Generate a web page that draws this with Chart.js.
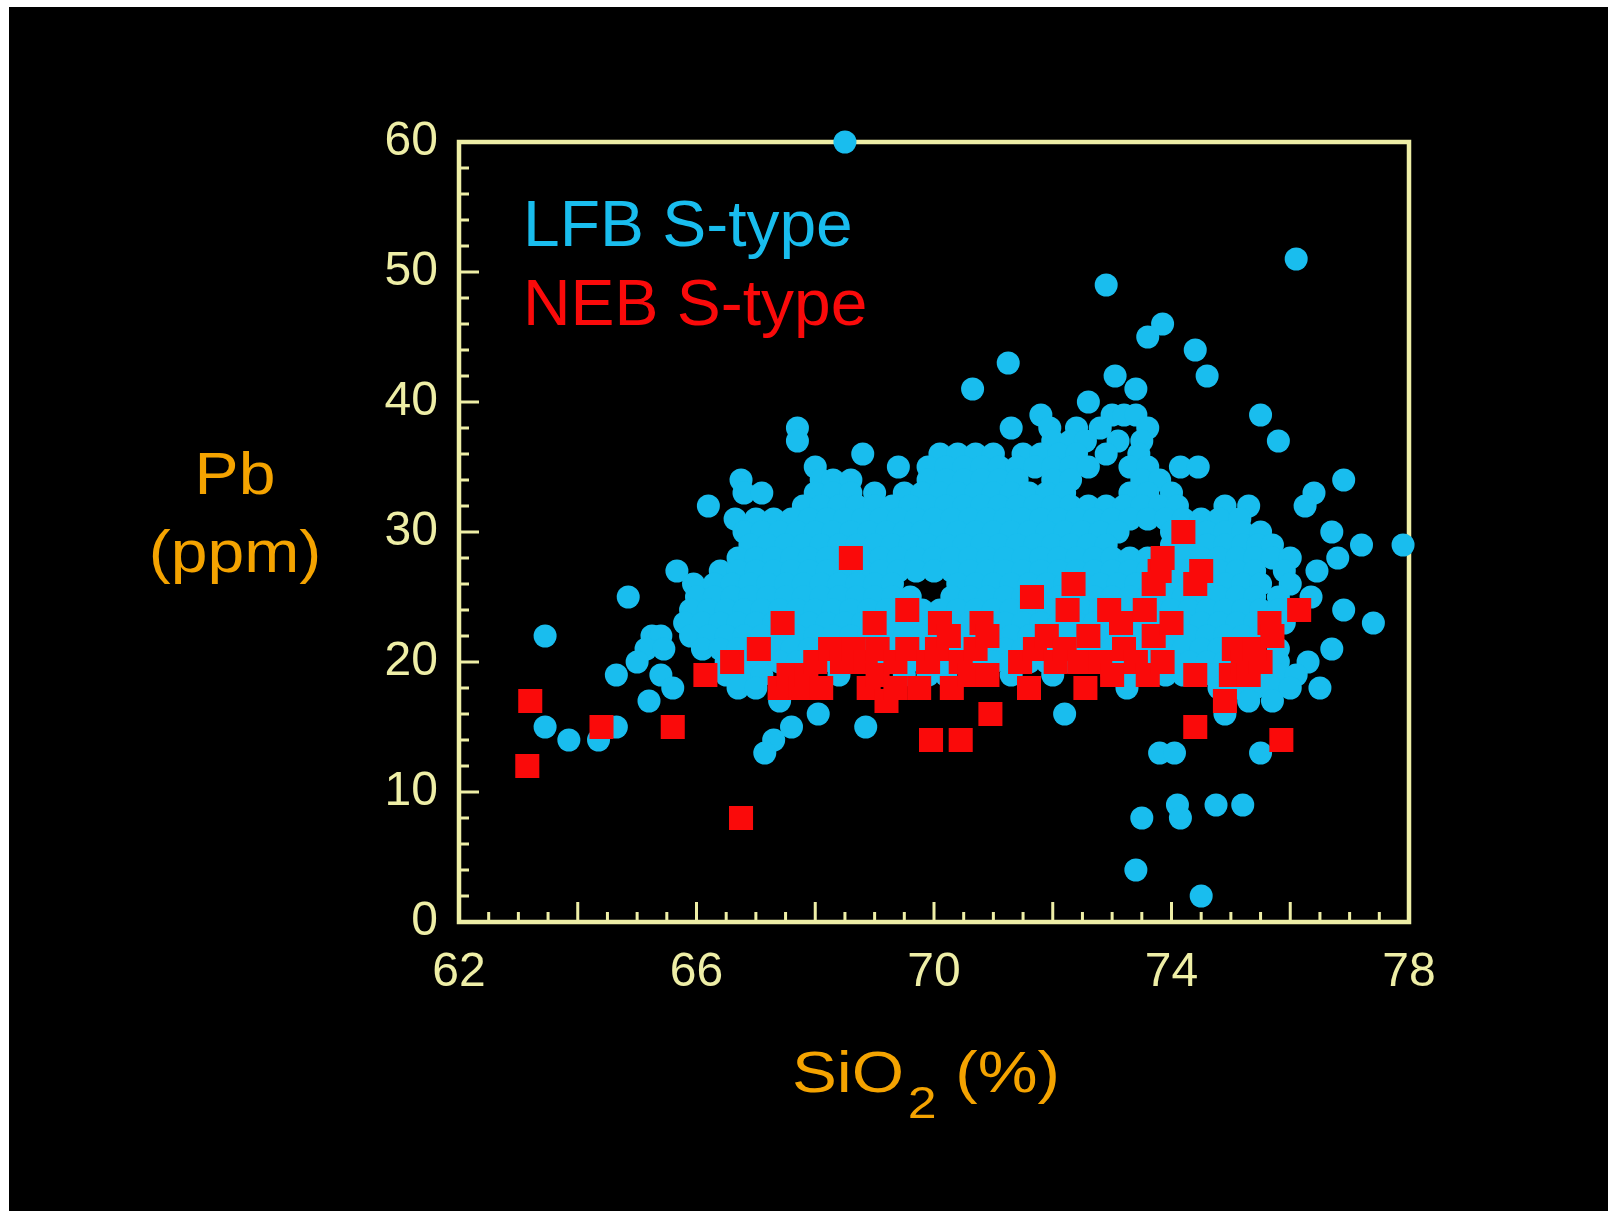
<!DOCTYPE html>
<html>
<head>
<meta charset="utf-8">
<script src="https://cdn.jsdelivr.net/npm/chart.js@4.4.0/dist/chart.umd.min.js"></script>
<style>
  html, body { margin: 0; padding: 0; background: #fff; }
  #wrap { position: relative; width: 1608px; height: 1211px; overflow: hidden; }
  #bg { position: absolute; left: 9px; top: 7px; right: 0; bottom: 0; background: #000; }
  canvas { position: absolute; left: 0; top: 0; }
  .txt { position: absolute; font-family: 'Liberation Sans', Arial, sans-serif; line-height: 1; white-space: nowrap; }
  .orange { color: #f4a300; }
</style>
</head>
<body>
<div id="wrap">
  <div id="bg"></div>
  <canvas id="pbChart" width="1608" height="1211"></canvas>
  <div class="txt" style="left:523px; top:192px; font-size:64px; color:#19bdee; transform:scaleX(1.03); transform-origin:left;">LFB S-type</div>
  <div class="txt" style="left:523px; top:271px; font-size:64px; color:#fa0a0a; transform:scaleX(1.03); transform-origin:left;">NEB S-type</div>
  <div class="txt orange" style="left:135px; width:200px; text-align:center; top:445px; font-size:59px; transform:scaleX(1.12);">Pb</div>
  <div class="txt orange" style="left:135px; width:200px; text-align:center; top:523px; font-size:59px; transform:scaleX(1.12);">(ppm)</div>
  <div class="txt orange" style="left:792px; top:1044px; font-size:57px; transform:scaleX(1.18); transform-origin:left;">SiO<span style="font-size:44px; position:relative; top:26px; margin-left:3px;">2</span> (%)</div>
</div>
<script>
// tick labels
const xTickLabels = [62, 66, 70, 74, 78];
const yTickLabels = [0, 10, 20, 30, 40, 50, 60];

// LFB S-type: [SiO2 %, Pb ppm]
const lfbPoints = [
  [68.5,60],[76.1,51],[72.9,49],[73.85,46],[73.6,45],[74.4,44],[71.25,43],[74.6,42],[73.05,42],[73.4,41],[70.65,41],[72.6,40],
  [71.8,39],[73.0,39],[73.2,39],[73.4,39],[75.5,39],
  [67.7,38],[71.3,38],[71.95,38],[72.4,38],[72.8,38],[73.6,38],
  [67.7,37],[72.0,37],[72.3,37],[72.55,37],[73.1,37],[73.5,37],[75.8,37],
  [68.8,36],[70.1,36],[70.4,36],[70.7,36],[71.0,36],[71.5,36],[71.8,36],[72.1,36],[72.4,36],[72.9,36],[73.45,36],
  [68.0,35],[69.4,35],[69.9,35],[70.2,35],[70.5,35],[70.8,35],[71.1,35],[71.4,35],[71.7,35],[72.0,35],[72.3,35],[72.6,35],[73.3,35],[73.6,35],[74.15,35],[74.45,35],
  [66.75,34],[68.1,34],[68.3,34],[68.6,34],[69.9,34],[70.2,34],[70.5,34],[70.8,34],[71.1,34],[71.4,34],[72.0,34],[72.3,34],[73.5,34],[73.8,34],[76.9,34],
  [66.8,33],[67.1,33],[68.0,33],[68.3,33],[68.6,33],[69.0,33],[69.5,33],[69.8,33],[70.1,33],[70.4,33],[70.7,33],[71.0,33],[71.3,33],[71.6,33],[71.9,33],[72.2,33],[73.3,33],[73.6,33],[74.0,33],[76.4,33],
  [66.2,32],[67.8,32],[68.1,32],[68.4,32],[68.7,32],[69.0,32],[69.3,32],[69.6,32],[69.9,32],[70.2,32],[70.5,32],[70.8,32],[71.1,32],[71.4,32],[71.7,32],[72.0,32],[72.3,32],[72.6,32],[72.9,32],[73.2,32],[73.5,32],[73.8,32],[74.1,32],[74.9,32],[75.3,32],[76.25,32],
  [66.65,31],[67.0,31],[67.3,31],[67.6,31],[67.9,31],[68.2,31],[68.5,31],[68.8,31],[69.1,31],[69.4,31],[69.7,31],[70.0,31],[70.3,31],[70.6,31],[70.9,31],[71.2,31],[71.5,31],[71.8,31],[72.1,31],[72.4,31],[72.7,31],[73.0,31],[73.3,31],[73.6,31],[73.9,31],[74.2,31],[74.5,31],[74.8,31],[75.15,31],
  [66.8,30],[67.1,30],[67.4,30],[67.7,30],[68.0,30],[68.3,30],[68.6,30],[68.9,30],[69.2,30],[69.5,30],[69.8,30],[70.1,30],[70.4,30],[70.7,30],[71.0,30],[71.3,30],[71.6,30],[71.9,30],[72.2,30],[72.5,30],[72.8,30],[73.1,30],[74.0,30],[74.3,30],[74.6,30],[74.9,30],[75.2,30],[75.5,30],[76.7,30],
  [66.9,29],[67.2,29],[67.5,29],[67.8,29],[68.1,29],[68.4,29],[68.7,29],[69.0,29],[69.3,29],[69.6,29],[69.9,29],[70.2,29],[70.5,29],[70.8,29],[71.1,29],[71.4,29],[71.7,29],[72.0,29],[72.3,29],[72.6,29],[72.9,29],[74.0,29],[74.3,29],[74.6,29],[74.9,29],[75.2,29],[75.45,29],[75.7,29],[77.2,29],[77.9,29],
  [66.7,28],[67.0,28],[67.3,28],[67.6,28],[67.9,28],[68.2,28],[68.5,28],[68.8,28],[69.1,28],[69.4,28],[69.7,28],[70.0,28],[70.3,28],[70.6,28],[70.9,28],[71.2,28],[71.5,28],[71.8,28],[72.1,28],[72.4,28],[72.7,28],[73.0,28],[73.3,28],[73.6,28],[73.9,28],[74.2,28],[74.5,28],[74.8,28],[75.1,28],[75.4,28],[75.7,28],[76.0,28],[76.8,28],
  [65.67,27],[66.4,27],[66.7,27],[67.0,27],[67.3,27],[67.6,27],[67.9,27],[68.2,27],[68.5,27],[68.8,27],[69.1,27],[69.4,27],[69.7,27],[70.0,27],[70.3,27],[70.6,27],[70.9,27],[71.2,27],[71.5,27],[71.8,27],[72.1,27],[72.4,27],[72.7,27],[73.0,27],[73.3,27],[73.6,27],[73.9,27],[74.2,27],[74.5,27],[74.8,27],[75.1,27],[75.4,27],[75.9,27],[76.45,27],
  [65.95,26],[66.3,26],[66.6,26],[66.9,26],[67.2,26],[67.5,26],[67.8,26],[68.1,26],[68.4,26],[68.7,26],[69.0,26],[69.3,26],[70.4,26],[70.7,26],[71.0,26],[71.3,26],[71.6,26],[71.9,26],[72.2,26],[72.5,26],[72.8,26],[73.1,26],[73.4,26],[74.0,26],[74.3,26],[74.6,26],[74.9,26],[75.2,26],[75.5,26],[76.0,26],
  [64.85,25],[66.0,25],[66.3,25],[66.6,25],[66.9,25],[67.2,25],[67.5,25],[67.8,25],[68.1,25],[68.4,25],[68.7,25],[69.0,25],[69.3,25],[69.6,25],[70.3,25],[70.6,25],[70.9,25],[71.2,25],[71.5,25],[71.8,25],[72.1,25],[72.4,25],[72.7,25],[73.0,25],[73.3,25],[73.6,25],[73.9,25],[74.2,25],[74.5,25],[74.8,25],[75.1,25],[75.4,25],[75.8,25],[76.35,25],
  [65.9,24],[66.2,24],[66.5,24],[66.8,24],[67.1,24],[67.4,24],[67.7,24],[68.0,24],[68.3,24],[68.6,24],[68.9,24],[69.2,24],[69.5,24],[69.8,24],[70.1,24],[70.4,24],[70.7,24],[71.0,24],[71.3,24],[71.6,24],[71.9,24],[72.2,24],[72.5,24],[72.8,24],[73.1,24],[73.4,24],[73.7,24],[74.0,24],[74.3,24],[74.6,24],[74.9,24],[75.2,24],[75.5,24],[75.8,24],[76.9,24],
  [65.8,23],[66.1,23],[66.4,23],[66.7,23],[67.0,23],[67.3,23],[67.6,23],[67.9,23],[68.2,23],[68.5,23],[68.8,23],[69.1,23],[69.4,23],[69.7,23],[70.0,23],[70.3,23],[70.6,23],[70.9,23],[71.2,23],[71.5,23],[71.8,23],[72.1,23],[72.4,23],[72.7,23],[73.0,23],[73.3,23],[73.6,23],[73.9,23],[74.2,23],[74.5,23],[74.8,23],[75.1,23],[75.4,23],[75.9,23],[77.4,23],
  [63.45,22],[65.25,22],[65.4,22],[65.9,22],[66.2,22],[66.5,22],[66.8,22],[67.1,22],[67.4,22],[67.7,22],[68.0,22],[68.3,22],[68.6,22],[68.9,22],[69.2,22],[69.5,22],[69.8,22],[70.1,22],[70.4,22],[70.7,22],[71.0,22],[71.3,22],[71.6,22],[71.9,22],[72.2,22],[72.5,22],[72.8,22],[73.1,22],[73.4,22],[73.7,22],[74.0,22],[74.3,22],[74.6,22],[74.9,22],[75.2,22],[75.5,22],
  [65.15,21],[65.45,21],[66.1,21],[66.4,21],[66.7,21],[67.0,21],[67.3,21],[67.6,21],[67.9,21],[68.2,21],[68.5,21],[68.8,21],[69.1,21],[69.4,21],[69.7,21],[70.0,21],[70.3,21],[70.6,21],[70.9,21],[71.2,21],[71.5,21],[71.8,21],[72.1,21],[72.4,21],[72.7,21],[73.0,21],[73.3,21],[73.6,21],[73.9,21],[74.2,21],[74.5,21],[74.8,21],[75.1,21],[75.4,21],[75.8,21],[76.7,21],
  [65.0,20],[66.5,20],[66.8,20],[67.1,20],[67.4,20],[67.7,20],[68.0,20],[68.3,20],[68.6,20],[68.9,20],[69.2,20],[69.5,20],[69.8,20],[70.1,20],[70.4,20],[70.7,20],[71.0,20],[71.3,20],[71.6,20],[71.9,20],[72.2,20],[72.5,20],[72.8,20],[73.1,20],[73.4,20],[73.7,20],[74.0,20],[74.3,20],[74.6,20],[74.9,20],[75.2,20],[75.5,20],[75.8,20],[76.3,20],
  [64.65,19],[65.4,19],[66.5,19],[66.8,19],[67.1,19],[68.4,19],[69.5,19],[69.9,19],[70.2,19],[71.3,19],[72.0,19],[73.0,19],[73.3,19],[73.6,19],[73.9,19],[74.2,19],[74.7,19],[75.0,19],[75.5,19],[75.8,19],[76.1,19],
  [65.6,18],[66.7,18],[67.0,18],[73.25,18],[74.8,18],[75.1,18],[75.4,18],[75.7,18],[76.0,18],[76.5,18],
  [65.2,17],[67.4,17],[74.9,17],[75.3,17],[75.7,17],
  [68.05,16],[72.2,16],[74.9,16],
  [63.45,15],[64.65,15],[67.6,15],[68.85,15],
  [63.85,14],[64.35,14],[67.3,14],
  [67.15,13],[73.8,13],[74.05,13],[75.5,13],
  [74.1,9],[74.75,9],[75.2,9],
  [73.5,8],[74.15,8],
  [73.4,4],[74.5,2]
];

// NEB S-type: [SiO2 %, Pb ppm]
const nebPoints = [
  [63.2,17],[63.15,12],[64.4,15],[65.6,15],[66.75,8],[66.15,19],[66.6,20],[67.05,21],[67.45,23],
  [67.4,18],[67.55,19],[67.75,18],[67.85,19],[68.1,18],[68.0,20],[68.25,21],[68.45,20],[68.65,21],[68.6,28],
  [68.85,20],[69.05,21],[69.0,23],[69.55,24],[68.9,18],[69.05,19],[69.2,17],[69.35,18],[69.35,20],[69.55,21],
  [69.75,18],[69.9,20],[70.1,23],[70.05,21],[70.25,22],[69.95,14],[70.45,14],[70.3,18],[70.45,20],[70.6,19],
  [70.8,23],[70.9,19],[70.95,16],[70.7,21],[70.9,22],[71.65,25],[71.6,18],[71.45,20],[71.7,21],[71.9,22],
  [72.05,20],[72.2,21],[72.35,26],[72.25,24],[72.55,18],[72.45,20],[72.6,22],[72.95,24],[73.15,23],[72.8,20],
  [73.0,19],[73.2,21],[73.4,20],[73.55,24],[73.6,19],[73.7,26],[73.8,27],[73.85,28],[73.7,22],[73.85,20],
  [74.0,23],[74.2,30],[74.4,26],[74.5,27],[74.4,19],[74.4,15],[74.9,17],[75.0,19],[75.05,21],[75.2,20],
  [75.3,19],[75.5,20],[75.4,21],[75.65,23],[75.7,22],[76.15,24],[75.85,14]
];

const lfbColor = '#19bdee';
const nebColor = '#fa0a0a';
const axisColor = '#eeeea6';
const fontFamily = "'Liberation Sans', Arial, sans-serif";

// frame with inward ticks, drawn under the points
const framePlugin = {
  id: 'frame',
  beforeDatasetsDraw(chart) {
    const { ctx, chartArea: a, scales: { x, y } } = chart;
    ctx.save();
    ctx.strokeStyle = axisColor;
    ctx.lineWidth = 4.5;
    ctx.strokeRect(a.left, a.top, a.right - a.left, a.bottom - a.top);
    ctx.lineWidth = 3;
    ctx.beginPath();
    for (let i = 0; i <= 32; i++) {
      const px = x.getPixelForValue(62 + i * 0.5);
      const len = i % 4 === 0 ? 20 : 10;
      ctx.moveTo(px, a.bottom);
      ctx.lineTo(px, a.bottom - len);
    }
    for (let i = 0; i <= 30; i++) {
      const py = y.getPixelForValue(i * 2);
      const len = i % 5 === 0 ? 20 : 10;
      ctx.moveTo(a.left, py);
      ctx.lineTo(a.left + len, py);
    }
    ctx.stroke();
    ctx.restore();
  }
};

const ctx = document.getElementById('pbChart').getContext('2d');
new Chart(ctx, {
  type: 'scatter',
  data: {
    datasets: [
      {
        label: 'NEB S-type',
        data: nebPoints.map(([x, y]) => ({ x, y })),
        pointStyle: 'rect',
        pointRadius: 17,
        backgroundColor: nebColor,
        borderWidth: 0,
        clip: false,
        order: 1
      },
      {
        label: 'LFB S-type',
        data: lfbPoints.map(([x, y]) => ({ x, y })),
        pointStyle: 'circle',
        pointRadius: 11.5,
        backgroundColor: lfbColor,
        borderWidth: 0,
        clip: false,
        order: 2
      }
    ]
  },
  options: {
    responsive: false,
    animation: false,
    events: [],
    layout: { padding: { top: 142, right: 199, bottom: 0, left: 0 } },
    plugins: { legend: { display: false }, tooltip: { enabled: false } },
    scales: {
      x: {
        type: 'linear',
        min: 62,
        max: 78,
        grid: { display: false },
        border: { display: false },
        afterBuildTicks: (s) => { s.ticks = xTickLabels.map(v => ({ value: v })); },
        afterFit: (s) => { s.height = 289; },
        ticks: { color: axisColor, font: { family: fontFamily, size: 48 }, padding: 14, maxRotation: 0, autoSkip: false }
      },
      y: {
        type: 'linear',
        min: 0,
        max: 60,
        grid: { display: false },
        border: { display: false },
        afterBuildTicks: (s) => { s.ticks = yTickLabels.map(v => ({ value: v })); },
        afterFit: (s) => { s.width = 459; },
        ticks: { color: axisColor, font: { family: fontFamily, size: 48 }, padding: 13, autoSkip: false }
      }
    }
  },
  plugins: [framePlugin]
});
</script>
</body>
</html>
